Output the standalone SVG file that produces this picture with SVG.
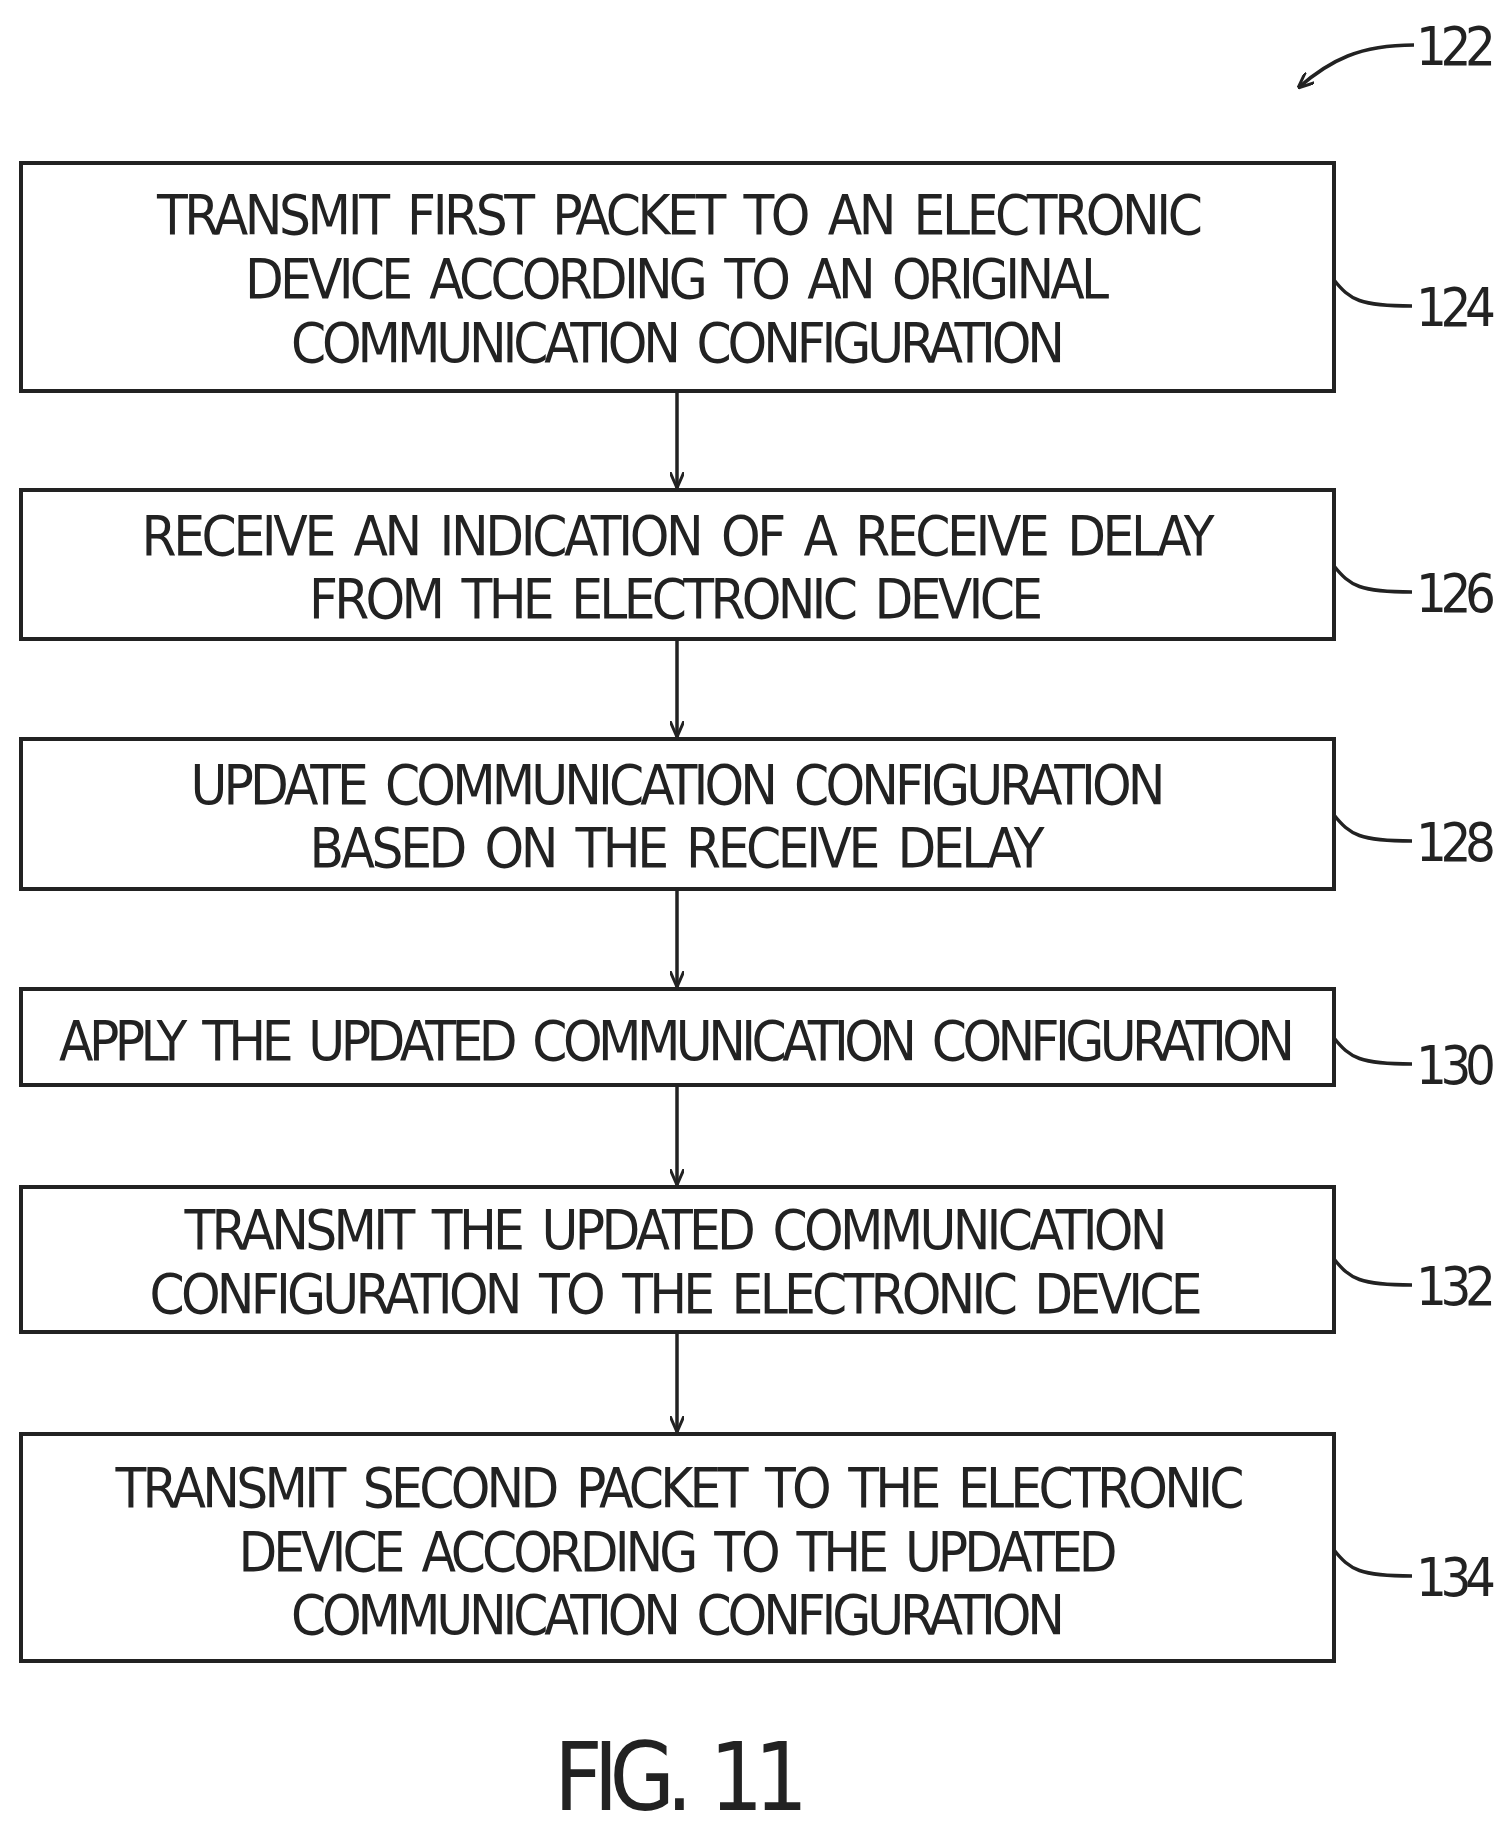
<svg xmlns="http://www.w3.org/2000/svg" width="1510" height="1843" viewBox="0 0 1510 1843">
<style>
rect{fill:#fff;stroke:#222;stroke-width:4}
text{font-family:"DejaVu Sans Condensed","DejaVu Sans",sans-serif;font-size:56px;fill:#222;text-anchor:middle;word-spacing:8px}
.lbl{text-anchor:start;font-size:54px}
path{fill:none;stroke:#222;stroke-width:3.5}
</style>
<defs><marker id="ah" markerWidth="16" markerHeight="14" refX="16" refY="7" orient="auto" markerUnits="userSpaceOnUse" viewBox="0 0 16 14"><path d="M0,0 L16,7 L0,14" style="stroke-width:3"/></marker></defs>
<rect width="1510" height="1843" style="stroke:none"/>
<g id="n124"><rect x="21" y="163" width="1313" height="228"/>
<text x="680" y="234" textLength="1046">TRANSMIT FIRST PACKET TO AN ELECTRONIC</text>
<text x="677" y="298" textLength="864">DEVICE ACCORDING TO AN ORIGINAL</text>
<text x="678" y="362" textLength="774">COMMUNICATION CONFIGURATION</text></g>
<g id="n126"><rect x="21" y="490" width="1313" height="149"/>
<text x="678" y="555" textLength="1073">RECEIVE AN INDICATION OF A RECEIVE DELAY</text>
<text x="676" y="618" textLength="734">FROM THE ELECTRONIC DEVICE</text></g>
<g id="n128"><rect x="21" y="739" width="1313" height="150"/>
<text x="678" y="804" textLength="975">UPDATE COMMUNICATION CONFIGURATION</text>
<text x="677" y="867" textLength="735">BASED ON THE RECEIVE DELAY</text></g>
<g id="n130"><rect x="21" y="989" width="1313" height="96"/>
<text x="677" y="1060" textLength="1236">APPLY THE UPDATED COMMUNICATION CONFIGURATION</text></g>
<g id="n132"><rect x="21" y="1187" width="1313" height="145"/>
<text x="676" y="1249" textLength="983">TRANSMIT THE UPDATED COMMUNICATION</text>
<text x="676" y="1313" textLength="1053">CONFIGURATION TO THE ELECTRONIC DEVICE</text></g>
<g id="n134"><rect x="21" y="1434" width="1313" height="227"/>
<text x="680" y="1507" textLength="1129">TRANSMIT SECOND PACKET TO THE ELECTRONIC</text>
<text x="678" y="1571" textLength="879">DEVICE ACCORDING TO THE UPDATED</text>
<text x="678" y="1634" textLength="774">COMMUNICATION CONFIGURATION</text></g>
<g id="connectors">
<path d="M677,391 V488" marker-end="url(#ah)"/>
<path d="M677,639 V737" marker-end="url(#ah)"/>
<path d="M677,889 V987" marker-end="url(#ah)"/>
<path d="M677,1085 V1185" marker-end="url(#ah)"/>
<path d="M677,1332 V1432" marker-end="url(#ah)"/>
<path d="M1334,280 C1350,300 1360,306 1412,306"/>
<path d="M1334,566 C1350,586 1360,592 1412,592"/>
<path d="M1334,815 C1350,835 1360,841 1412,841"/>
<path d="M1334,1038 C1350,1058 1360,1064 1412,1064"/>
<path d="M1334,1259 C1350,1279 1360,1285 1412,1285"/>
<path d="M1334,1550 C1350,1570 1360,1576 1412,1576"/>
<path d="M1414,45 C1360,45 1330,60 1298,88" marker-end="url(#ah)"/>
</g>
<g id="labels">
<text class="lbl" x="1416" y="65" textLength="80">122</text>
<text class="lbl" x="1416" y="326" textLength="80">124</text>
<text class="lbl" x="1416" y="612" textLength="80">126</text>
<text class="lbl" x="1416" y="861" textLength="80">128</text>
<text class="lbl" x="1416" y="1084" textLength="80">130</text>
<text class="lbl" x="1416" y="1305" textLength="80">132</text>
<text class="lbl" x="1416" y="1596" textLength="80">134</text>
<text x="681" y="1810" style="font-size:94px" textLength="254">FIG. 11</text>
</g>
</svg>
